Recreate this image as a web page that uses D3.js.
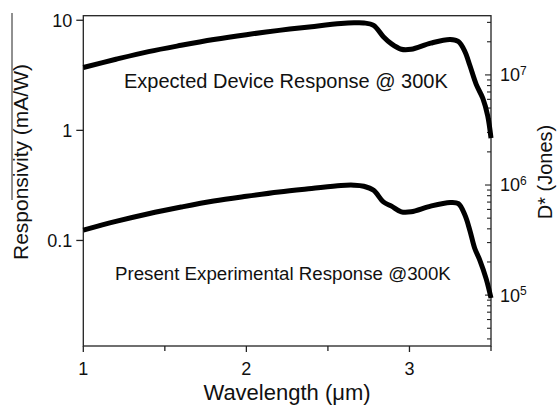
<!DOCTYPE html>
<html>
<head>
<meta charset="utf-8">
<script src="https://cdn.jsdelivr.net/npm/d3@7"></script>
<style>
  body { margin: 0; background: #fff; }
  text { font-family: "Liberation Sans", Arial, sans-serif; fill: #111; }
</style>
</head>
<body>
<div id="chart"></div>
<script>
// wavelength (um) and responsivity (mA/W)
const lambdaExp = [1.0, 1.2, 1.4, 1.6, 1.8, 2.0, 2.2, 2.4, 2.58, 2.66, 2.72, 2.78, 2.84, 2.89, 2.95, 3.01, 3.13, 3.25, 3.30, 3.34, 3.37, 3.41, 3.45, 3.48, 3.5];
const respExp   = [3.72, 4.42, 5.19, 5.92, 6.68, 7.40, 8.09, 8.75, 9.33, 9.47, 9.45, 9.0, 7.1, 6.1, 5.45, 5.45, 6.2, 6.7, 6.4, 5.2, 3.9, 2.6, 1.95, 1.35, 0.85];

const lambdaPres = [1.0, 1.2, 1.4, 1.6, 1.8, 2.0, 2.2, 2.4, 2.58, 2.66, 2.72, 2.78, 2.84, 2.89, 2.95, 3.01, 3.13, 3.25, 3.30, 3.34, 3.37, 3.40, 3.43, 3.47, 3.5];
const respPres   = [0.124, 0.149, 0.175, 0.201, 0.228, 0.252, 0.276, 0.297, 0.316, 0.318, 0.311, 0.286, 0.224, 0.205, 0.182, 0.182, 0.205, 0.221, 0.216, 0.17, 0.124, 0.085, 0.067, 0.045, 0.030];

const xTicks = [1, 2, 3];
const xMinorTicks = [1.5, 2.5, 3.5];
const leftTicks = [0.1, 1, 10];
const leftTickLabels = ["0.1", "1", "10"];

const labelExp = "Expected Device Response @ 300K";
const labelPres = "Present Experimental Response @300K";

const W = 558, H = 405;
const margin = { top: 15.7, right: 67, bottom: 59, left: 83.3 },
    width = W - margin.left - margin.right,
    height = H - margin.top - margin.bottom;

const svg = d3.select("#chart").append("svg")
    .attr("width", W).attr("height", H);

const g = svg.append("g")
    .attr("transform", `translate(${margin.left},${margin.top})`);

const x = d3.scaleLinear().domain([1, 3.5]).range([0, width]);
const y = d3.scaleLog().domain([0.011, 11]).range([height, 0]);
const yRight = d3.scaleLog().domain([3.45e4, 3.45e7]).range([height, 0]);

// frame
g.append("rect")
    .attr("width", width).attr("height", height)
    .attr("fill", "none").attr("stroke", "#222").attr("stroke-width", 1.3);

// bottom axis
const xAxis = g.append("g").attr("transform", `translate(0,${height})`);
xAxis.selectAll(".major").data(xTicks).enter().append("line")
    .attr("x1", d => x(d)).attr("x2", d => x(d))
    .attr("y1", 0).attr("y2", 6)
    .attr("stroke", "#222").attr("stroke-width", 1.3);
xAxis.selectAll(".minor").data(xMinorTicks).enter().append("line")
    .attr("x1", d => x(d)).attr("x2", d => x(d))
    .attr("y1", 0).attr("y2", 5)
    .attr("stroke", "#222").attr("stroke-width", 1.3);
xAxis.selectAll("text").data(xTicks).enter().append("text")
    .attr("x", d => x(d)).attr("y", 29)
    .attr("text-anchor", "middle").attr("font-size", "18px")
    .text(d => d);

// left axis
const yAxis = g.append("g");
yAxis.selectAll("line").data(leftTicks).enter().append("line")
    .attr("x1", 0).attr("x2", -7)
    .attr("y1", d => y(d)).attr("y2", d => y(d))
    .attr("stroke", "#222").attr("stroke-width", 1.3);
yAxis.selectAll("text").data(leftTicks).enter().append("text")
    .attr("x", -11).attr("y", d => y(d)).attr("dy", "0.36em")
    .attr("text-anchor", "end").attr("font-size", "18px")
    .text((d, i) => leftTickLabels[i]);

// right axis, ticks inward
const rAxis = g.append("g").attr("transform", `translate(${width},0)`);
const rTicks = yRight.ticks();
const isMajor = d => Math.abs(Math.log10(d) - Math.round(Math.log10(d))) < 1e-6;
rAxis.selectAll("line").data(rTicks).enter().append("line")
    .attr("x1", 0).attr("x2", d => isMajor(d) ? -6 : -4)
    .attr("y1", d => yRight(d)).attr("y2", d => yRight(d))
    .attr("stroke", "#222").attr("stroke-width", 1.1);
const rLab = rAxis.selectAll("text").data(rTicks.filter(isMajor)).enter().append("text")
    .attr("x", 9).attr("y", d => yRight(d)).attr("dy", "0.36em")
    .attr("font-size", "18px");
rLab.append("tspan").text("10");
rLab.append("tspan").attr("dy", "-0.55em").attr("font-size", "12px")
    .text(d => Math.round(Math.log10(d)));

// curves
const line = d3.line()
    .x(d => x(d[0])).y(d => y(d[1]))
    .curve(d3.curveCatmullRom.alpha(0.5));

g.append("path")
    .datum(d3.zip(lambdaExp, respExp))
    .attr("d", line)
    .attr("fill", "none").attr("stroke", "#000")
    .attr("stroke-width", 5).attr("stroke-linejoin", "round");

g.append("path")
    .datum(d3.zip(lambdaPres, respPres))
    .attr("d", line)
    .attr("fill", "none").attr("stroke", "#000")
    .attr("stroke-width", 5).attr("stroke-linejoin", "round");

// annotations
g.append("text")
    .attr("x", 124 - margin.left).attr("y", 88 - margin.top)
    .attr("font-size", "20px").text(labelExp);
g.append("text")
    .attr("x", 115 - margin.left).attr("y", 280 - margin.top)
    .attr("font-size", "18.7px").text(labelPres);

// axis titles
svg.append("text")
    .attr("transform", "translate(287,400)")
    .attr("text-anchor", "middle").attr("font-size", "22px")
    .text("Wavelength (\u03bcm)");

svg.append("text")
    .attr("transform", "translate(28,162) rotate(-90)")
    .attr("text-anchor", "middle").attr("font-size", "21px")
    .text("Responsivity (mA/W)");

svg.append("text")
    .attr("transform", "translate(552,172) rotate(-90)")
    .attr("text-anchor", "middle").attr("font-size", "20px")
    .text("D* (Jones)");

// stray rule over the left title
svg.append("line")
    .attr("x1", 12).attr("x2", 12).attr("y1", 13).attr("y2", 200)
    .attr("stroke", "#222").attr("stroke-width", 1);
</script>
</body>
</html>
